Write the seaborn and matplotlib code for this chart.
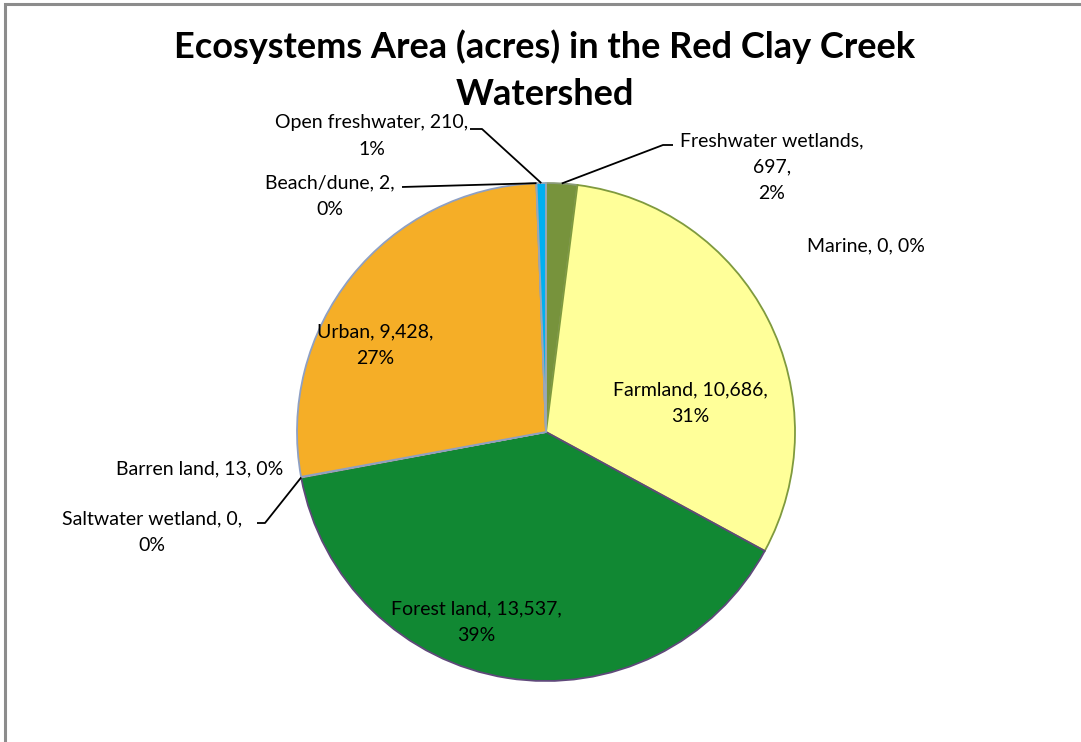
import numpy as np
import matplotlib
matplotlib.use("Agg")
import matplotlib.pyplot as plt
import seaborn as sns

categories = ["Freshwater wetlands", "Marine", "Farmland", "Forest land", "Saltwater wetland",
              "Barren land", "Urban", "Beach/dune", "Open freshwater"]
acres = [697, 0, 10686, 13537, 0, 13, 9428, 2, 210]
slice_colors = ["#77933C", "#4F81BD", "#FFFF99", "#118833", "#4BACC6",
                "#A5A5A5", "#F5AE27", "#F2DCDB", "#00B0F0"]
edge_colors = ["#8A9A78", "#4F81BD", "#7F9A3E", "#5F497A", "#4BACC6",
               "#A5A5A5", "#8EA0C4", "#A0A0A0", "#9AA8B8"]

W, H = 1081, 742
CENTER = (546, 432)
RADIUS = 249

# label centres (pixels from top-left) and how the three parts are broken into lines
label_layout = {
    "Freshwater wetlands": ((772, 167), [[0], [1], [2]]),
    "Marine": ((866, 246), [[0, 1, 2]]),
    "Farmland": ((690, 403), [[0, 1], [2]]),
    "Forest land": ((476, 622), [[0, 1], [2]]),
    "Saltwater wetland": ((152, 532), [[0, 1], [2]]),
    "Barren land": ((200, 469), [[0, 1, 2]]),
    "Urban": ((375, 345), [[0, 1], [2]]),
    "Beach/dune": ((330, 196), [[0, 1], [2]]),
    "Open freshwater": ((372, 136), [[0, 1], [2]]),
}
# leader lines: text-side points (pixels from top-left), last point goes to the slice edge
leaders = {
    "Open freshwater": [(470, 129), (482, 129)],
    "Beach/dune": [(402, 187)],
    "Freshwater wetlands": [(673, 145), (663, 145)],
    "Saltwater wetland": [(257, 523), (265, 523)],
}


def px(p):
    return p[0], H - p[1]


sns.set_theme(style="white")
plt.rcParams["font.family"] = ["Lato", "DejaVu Sans"]

fig = plt.figure(figsize=(W / 100, H / 100), dpi=100)
ax = fig.add_axes([0, 0, 1, 1])

wedges, _ = ax.pie(
    acres,
    colors=slice_colors,
    startangle=90,
    counterclock=False,
    center=px(CENTER),
    radius=RADIUS,
    wedgeprops=dict(linewidth=1.3),
)
ax.set_xlim(0, W)
ax.set_ylim(0, H)
ax.set_aspect("equal")
ax.axis("off")

for wedge, value, ec in zip(wedges, acres, edge_colors):
    wedge.set_edgecolor(ec)
    if value == 0:
        wedge.set_visible(False)

total = sum(acres)
for name, value, wedge in zip(categories, acres, wedges):
    pct = round(100 * value / total)
    parts = [f"{name},", f"{value:,},", f"{pct}%"]
    pos, groups = label_layout[name]
    text = "\n".join(" ".join(parts[i] for i in g) for g in groups)
    ax.text(*px(pos), text, ha="center", va="center", multialignment="center",
            fontsize=14, color="#000000", linespacing=1.66)

    if name in leaders:
        mid = np.deg2rad((wedge.theta1 + wedge.theta2) / 2)
        cx, cy = px(CENTER)
        edge_pt = (cx + RADIUS * np.cos(mid), cy + RADIUS * np.sin(mid))
        pts = [px(p) for p in leaders[name]] + [edge_pt]
        xs, ys = zip(*pts)
        ax.plot(xs, ys, color="#000000", linewidth=1.3, solid_capstyle="butt")

ax.text(545, H - 70, "Ecosystems Area (acres) in the Red Clay Creek\nWatershed",
        ha="center", va="center", fontsize=26, fontweight="bold", color="#000000",
        linespacing=1.52)

# chart frame (right and bottom edges fall outside the picture)
ax.plot([5, 5, W], [0, H - 4, H - 4], color="#8C8C8C", linewidth=2.2,
        solid_joinstyle="miter", solid_capstyle="butt")

fig.savefig("out.png", dpi=100)
